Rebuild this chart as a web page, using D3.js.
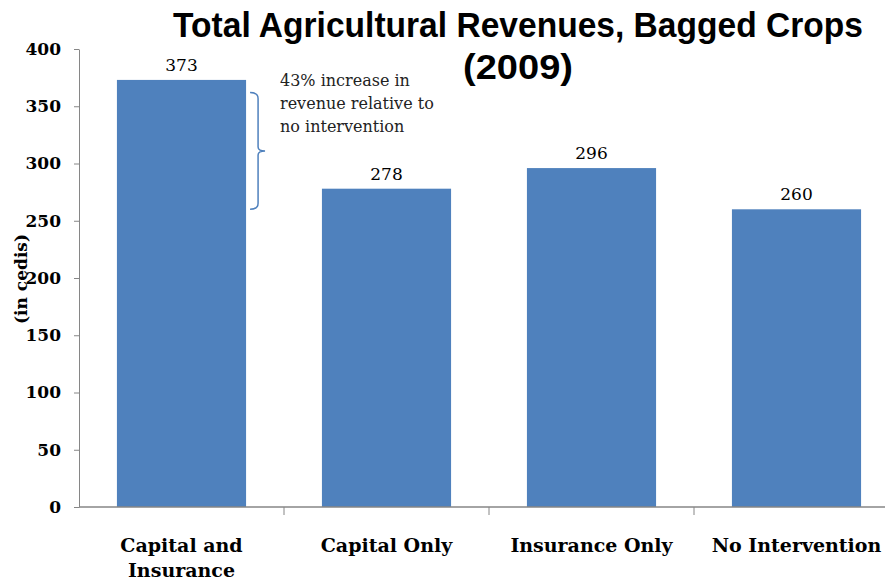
<!DOCTYPE html>
<html><head><meta charset="utf-8">
<script src="https://cdn.jsdelivr.net/npm/d3@7"></script>
<style>body{margin:0;background:#fff}svg{display:block}</style>
</head><body><svg id="c" width="885" height="581"></svg>
<script>
const categories = ["Capital and Insurance", "Capital Only", "Insurance Only", "No Intervention"];
const values = [373, 278, 296, 260];
const yTicks = [0, 50, 100, 150, 200, 250, 300, 350, 400];
const titleLines = ["Total Agricultural Revenues, Bagged Crops", "(2009)"];
const yLabel = "(in cedis)";
const noteLines = ["43% increase in", "revenue relative to", "no intervention"];
const braceRange = [362, 260];

const svg = d3.select("#c");
const x = d3.scaleBand().domain(categories).range([79, 899]).paddingInner(0.37).paddingOuter(0.185);
const y = d3.scaleLinear().domain([0, 400]).range([507, 49]);
const serif = "'DejaVu Serif','Liberation Serif',serif";

// bars
svg.selectAll("rect.bar").data(values).join("rect")
  .attr("x", (d,i)=>x(categories[i])).attr("y", d=>y(d))
  .attr("width", x.bandwidth()).attr("height", d=>y(0)-y(d))
  .attr("fill", "#4f81bd");

// y axis
const ya = svg.append("g").attr("transform","translate(79,0)")
  .call(d3.axisLeft(y).tickValues(yTicks).tickSize(5).tickSizeOuter(0).tickPadding(13));
ya.select(".domain").attr("stroke","#868686");
ya.selectAll(".tick line").attr("stroke","#868686");
ya.selectAll(".tick text").attr("font-family",serif).attr("font-weight","bold").attr("font-size","17px").attr("fill","#000");

// x axis
const xa = svg.append("g").attr("transform","translate(0,507)");
xa.append("line").attr("x1",79).attr("x2",885).attr("y1",0).attr("y2",0).attr("stroke","#868686").attr("stroke-width",1.5);
const bounds = categories.slice(1).map(c => x(c) - x.step()*x.paddingInner()/2);
xa.selectAll("line.tk").data(bounds).join("line").attr("x1",d=>d).attr("x2",d=>d).attr("y1",0).attr("y2",8).attr("stroke","#868686");
xa.selectAll("text.cat").data(categories).join("text")
  .attr("font-family",serif).attr("font-weight","bold").attr("font-size","19px").attr("text-anchor","middle")
  .each(function(d){
    const t = d3.select(this);
    const lines = d === "Capital and Insurance" ? ["Capital and","Insurance"] : [d];
    lines.forEach((l,i)=>t.append("tspan").attr("x", x(d)+x.bandwidth()/2).attr("y", 45 + i*25).text(l));
  });

// value labels
svg.selectAll("text.val").data(values).join("text")
  .attr("x",(d,i)=>x(categories[i])+x.bandwidth()/2).attr("y",d=>y(d)-9)
  .attr("text-anchor","middle").attr("font-family",serif).attr("font-size","17px").text(d=>d);

// title (horizontally condensed to mimic a narrow bold face)
const targetW = [690, 110];
svg.selectAll("text.title").data(titleLines).join("text")
  .attr("class","title").attr("x",0).attr("y",0).attr("text-anchor","middle")
  .attr("font-family","'Liberation Sans','Arial',sans-serif").attr("font-weight","bold")
  .attr("font-size","36px")
  .text(d=>d)
  .each(function(d,i){
    const w = this.getComputedTextLength();
    d3.select(this).attr("transform", `translate(518,${37+i*42}) scale(${targetW[i]/w},1)`);
  });

// y label
svg.append("text").attr("transform","translate(27,279) rotate(-90)").attr("text-anchor","middle")
  .attr("font-family",serif).attr("font-weight","bold").attr("font-size","17px").text(yLabel);

// annotation
svg.selectAll("text.note").data(noteLines).join("text")
  .attr("x",280).attr("y",(d,i)=>86+i*23).attr("font-family",serif).attr("font-size","16px").attr("fill","#222").text(d=>d);

// brace
const bx = x(categories[0]) + x.bandwidth() + 4;
const y1 = y(braceRange[0]), y2 = y(braceRange[1]), ym = (y1+y2)/2;
svg.append("path").attr("fill","none").attr("stroke","#4f81bd").attr("stroke-width",1.5)
  .attr("d", `M${bx},${y1} Q${bx+8},${y1} ${bx+8},${y1+6} L${bx+8},${ym-4} Q${bx+8},${ym} ${bx+15},${ym} Q${bx+8},${ym} ${bx+8},${ym+4} L${bx+8},${y2-6} Q${bx+8},${y2} ${bx},${y2}`);
</script></body></html>
